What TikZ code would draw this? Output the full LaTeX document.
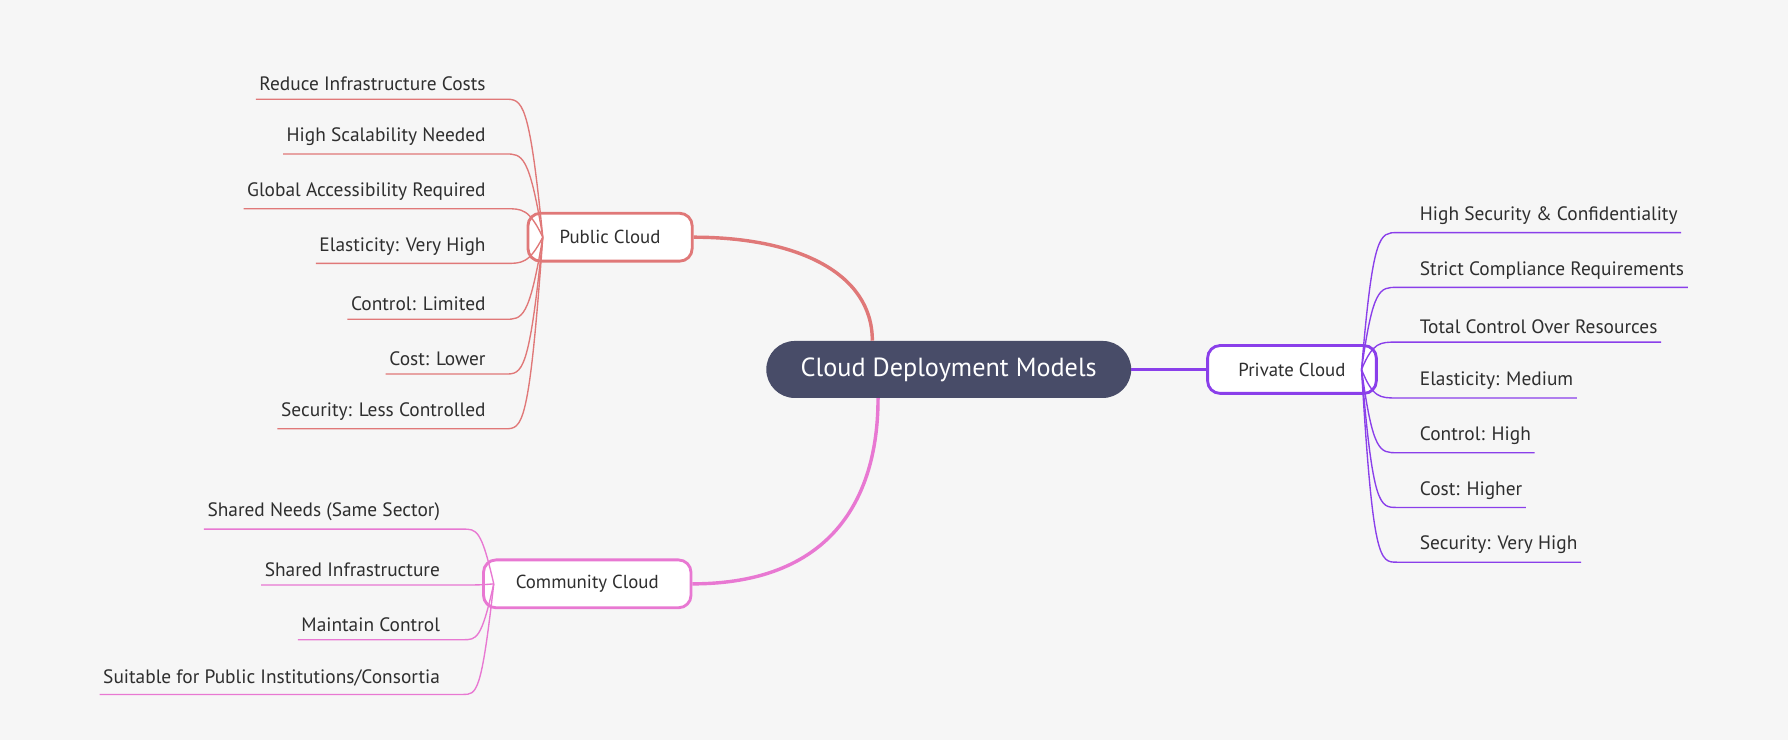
\documentclass[tikz,border=0pt]{standalone}
\usepackage{fontspec}
\setmainfont{PT Sans}
\definecolor{bg}{HTML}{F6F6F6}
\definecolor{cen}{HTML}{484C68}
\definecolor{pub}{HTML}{E07878}
\definecolor{pri}{HTML}{8A3FEA}
\definecolor{com}{HTML}{E878D2}
\definecolor{txt}{HTML}{2E2E2E}
\begin{document}
\begin{tikzpicture}[x=1pt,y=-1pt,
  box/.style={draw,line width=2.5pt,fill=white,rounded corners=11pt,minimum height=42pt,text=txt,font=\fontsize{16.5}{18}\selectfont},
  leaf/.style={inner xsep=0pt,inner ysep=7pt,text=txt,font=\fontsize{17}{19}\selectfont},
  br/.style={line width=1.2pt}]
\fill[bg] (0,0) rectangle (1568,649);
\useasboundingbox (0,0) rectangle (1568,649);
\node[fill=cen,rounded corners=25pt,minimum width=320pt,minimum height=50pt,text=white,font=\fontsize{23}{26}\selectfont] (c) at (832,324) {Cloud Deployment Models};
\node[box,draw=pub,minimum width=144pt] (pu) at (535,208) {Public Cloud};
\node[box,draw=pri,minimum width=148pt] (pr) at (1133,324) {Private Cloud};
\node[box,draw=com,minimum width=182pt] (co) at (515,512) {Community Cloud};
\draw[pub,line width=3pt] ([xshift=-67pt]c.north) .. controls +(0,-60) and +(90,0) .. (pu.east);
\draw[pri,line width=3pt] (c.east) -- (pr.west);
\draw[com,line width=3pt] ([xshift=-62pt]c.south) .. controls +(0,90) and +(120,0) .. (co.east);
% public leaves
\foreach \n/\y/\t in {p1/87/Reduce Infrastructure Costs,p2/135/High Scalability Needed,p3/183/Global Accessibility Required,p4/231/Elasticity: Very High,p5/280/Control: Limited,p6/328/Cost: Lower,p7/376/Security: Less Controlled}{
  \node[leaf,anchor=south east] (\n) at (426,\y) {\t};
  \coordinate (\n e) at (443,\y);
  \draw[pub,br] (476,208) .. controls (464,\y) and (458,\y) .. (\n e) -- ([xshift=-3pt]\n.south west);
}
% private leaves
\foreach \n/\y/\t in {r1/204/High Security \& Confidentiality,r2/252/Strict Compliance Requirements,r3/300/Total Control Over Resources,r4/349/Elasticity: Medium,r5/397/Control: High,r6/445/Cost: Higher,r7/493/Security: Very High}{
  \node[leaf,anchor=south west] (\n) at (1245,\y) {\t};
  \coordinate (\n w) at (1225,\y);
  \draw[pri,br] (1194,324) .. controls (1204,\y) and (1210,\y) .. (\n w) -- ([xshift=3pt]\n.south east);
}
% community leaves
\foreach \n/\y/\t in {m1/464/{Shared Needs (Same Sector)},m2/513/{Shared Infrastructure},m3/561/{Maintain Control},m4/609/{Suitable for Public Institutions/Consortia}}{
  \node[leaf,anchor=south east] (\n) at (386,\y) {\t};
  \coordinate (\n e) at (406,\y);
  \draw[com,br] (433,512) .. controls (422,\y) and (418,\y) .. (\n e) -- ([xshift=-3pt]\n.south west);
}
\end{tikzpicture}
\end{document}
